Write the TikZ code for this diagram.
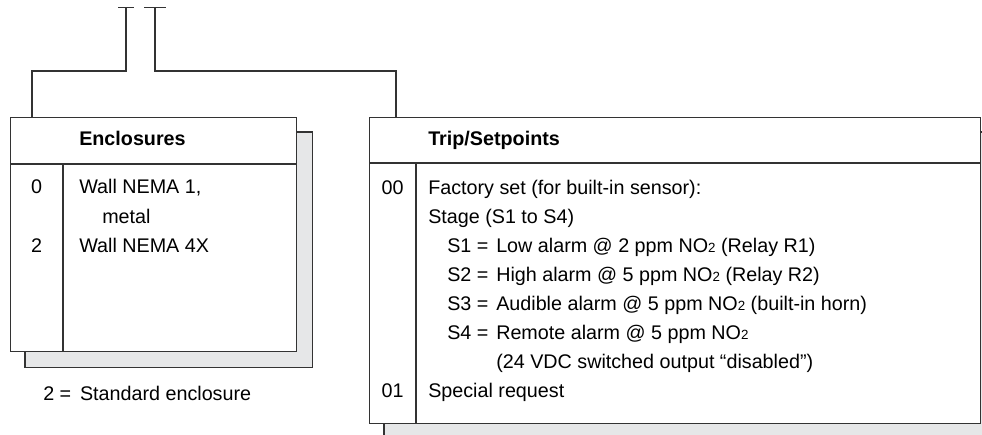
\documentclass[tikz,border=0pt]{standalone}
\usepackage{fontspec}
\setmainfont{Liberation Sans}
\usetikzlibrary{positioning,arrows.meta,calc,backgrounds}
\definecolor{rule}{HTML}{333333}
\definecolor{shade}{HTML}{E6E7E8}
\newcommand{\NOtwo}{NO{\fontsize{10}{10}\selectfont 2}}

\begin{document}
\begin{tikzpicture}[
   x=0.75pt,y=-0.75pt,
   every node/.style={font=\fontsize{14.8}{17}\selectfont},
   panel/.style={draw=rule,line width=1.1pt,fill=white,anchor=north west,inner sep=0pt},
   shadow/.style={draw=rule,line width=1.1pt,fill=shade},
   rowtxt/.style={anchor=base west,inner sep=0pt},
   rowkey/.style={anchor=base,inner sep=0pt},
   head/.style={rowtxt,font=\fontsize{14.8}{17}\selectfont\bfseries},
   link/.style={draw=rule,line width=1pt},
   tap/.style={{Bar[width=#1,line width=1pt]}-},
]
\useasboundingbox (0,0) rectangle (982,435);
\clip (0,0) rectangle (982,435);

\node[panel,minimum width=214.5pt,minimum height=175.5pt] (encl) at (10,117) {};
\node[panel,minimum width=458.25pt,minimum height=229.5pt] (trip) at (369,117) {};

\begin{scope}[on background layer]
\draw[shadow] ($(encl.north west)+(15,15)$) rectangle ($(encl.south east)+(15,15)$);
\draw[shadow] ($(trip.north west)+(15,15)$) rectangle ($(trip.south east)+(15,15)$);
\end{scope}

\draw[link] ($(encl.north west)+(0,47)$) -- ($(encl.north east)+(0,47)$);
\draw[link] ($(encl.north west)+(53,47)$) -- ($(encl.south west)+(53,0)$);
\draw[link] ($(trip.north west)+(0,46)$) -- ($(trip.north east)+(0,46)$);
\draw[link] ($(trip.north west)+(47,46)$) -- ($(trip.south west)+(47,0)$);

\coordinate (tapL) at (126,7);
\coordinate (tapR) at (155,7);
\draw[link,tap=12pt] (tapL) -- ++(0,64) -| ($(encl.north west)+(22,0)$);
\draw[link,tap=16pt] (tapR) -- ++(0,64) -| ($(trip.north west)+(27,0)$);

\node[head] (enclHead) at (79,146) {Enclosures};
\node[rowkey] (enclK0) at (36.5,193) {0};
\node[rowtxt] (enclV0) at (79,193) {Wall NEMA 1,};
\node[rowtxt] (enclV0b) at (102,223) {metal};
\node[rowkey] (enclK2) at (36.5,252) {2};
\node[rowtxt] (enclV2) at (79,252) {Wall NEMA 4X};
\node[rowtxt] (enclStd) at (43,400) {2 =\, Standard enclosure};

\node[head] (tripHead) at (428,146) {Trip/Setpoints};
\node[rowkey] (tripK00) at (392.5,194) {00};
\node[rowtxt] (tripV00) at (428,194) {Factory set (for built-in sensor):};
\node[rowtxt] (tripStage) at (428,223) {Stage (S1 to S4)};
\node[rowtxt] (tripS1) at (447,252) {S1 =};
\node[rowtxt] (tripS1v) at (496,252) {Low alarm @ 2 ppm \NOtwo{} (Relay R1)};
\node[rowtxt] (tripS2) at (447,281) {S2 =};
\node[rowtxt] (tripS2v) at (496,281) {High alarm @ 5 ppm \NOtwo{} (Relay R2)};
\node[rowtxt] (tripS3) at (447,310) {S3 =};
\node[rowtxt] (tripS3v) at (496,310) {Audible alarm @ 5 ppm \NOtwo{} (built-in horn)};
\node[rowtxt] (tripS4) at (447,339) {S4 =};
\node[rowtxt] (tripS4v) at (496,339) {Remote alarm @ 5 ppm \NOtwo};
\node[rowtxt] (tripS4w) at (496,368) {(24 VDC switched output “disabled”)};
\node[rowkey] (tripK01) at (392.5,397) {01};
\node[rowtxt] (tripV01) at (428,397) {Special request};
\end{tikzpicture}
\end{document}
